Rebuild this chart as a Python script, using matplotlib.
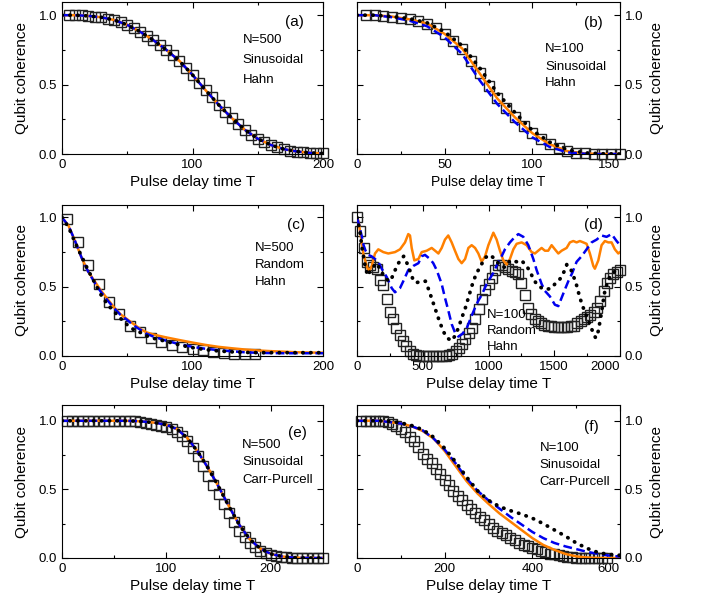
import numpy as np
import matplotlib
matplotlib.use("Agg")
import matplotlib.pyplot as plt
from matplotlib.ticker import MultipleLocator

plt.rcParams['font.family'] = ['Liberation Sans', 'DejaVu Sans']

# ---------------- (a) N=500 sinusoidal Hahn ----------------
a_x = [0, 10, 20, 30, 40, 50, 60, 70, 80, 90, 100, 110, 120, 130, 140, 150, 160, 170, 180, 190, 200]
a_curve = [1.0, 1.0, 0.995, 0.985, 0.965, 0.93, 0.88, 0.82, 0.75, 0.67, 0.57, 0.46, 0.355, 0.26, 0.175,
           0.11, 0.065, 0.035, 0.018, 0.008, 0.004]
a_sq_x = np.arange(5, 201, 5)
a_sq = [1.0, 1.0, 0.998, 0.995, 0.99, 0.985, 0.975, 0.965, 0.95, 0.93, 0.905, 0.88, 0.85, 0.82, 0.785,
        0.75, 0.71, 0.67, 0.62, 0.57, 0.515, 0.46, 0.41, 0.355, 0.305, 0.26, 0.215, 0.175, 0.14, 0.11,
        0.085, 0.065, 0.048, 0.035, 0.025, 0.018, 0.012, 0.008, 0.005, 0.004]

# ---------------- (b) N=100 sinusoidal Hahn ----------------
b_x = [0, 10, 20, 30, 40, 50, 60, 70, 80, 90, 100, 110, 120, 130, 140, 150]
b_orange = [1.0, 1.0, 0.99, 0.97, 0.94, 0.865, 0.76, 0.58, 0.40, 0.265, 0.15, 0.07, 0.02, 0.004, 0.0, 0.0]
b_blue = [1.0, 1.0, 0.985, 0.96, 0.92, 0.84, 0.72, 0.53, 0.36, 0.23, 0.12, 0.05, 0.012, 0.002, 0.0, 0.0]
b_dots = [1.0, 1.0, 0.99, 0.975, 0.945, 0.88, 0.78, 0.62, 0.44, 0.30, 0.17, 0.085, 0.03, 0.008, 0.002, 0.0]
b_sq_x = np.arange(5, 151, 5)
b_sq = [1.0, 1.0, 0.995, 0.99, 0.98, 0.97, 0.955, 0.94, 0.905, 0.865, 0.815, 0.76, 0.67, 0.58, 0.49,
        0.40, 0.33, 0.265, 0.205, 0.15, 0.11, 0.07, 0.04, 0.02, 0.01, 0.004, 0.001, 0.0, 0.0, 0.0]

# ---------------- (c) N=500 random Hahn ----------------
c_x = [0, 5, 10, 15, 20, 25, 30, 35, 40, 45, 50, 55, 60, 65, 70, 80, 90, 100, 110, 120, 130, 140, 150,
       160, 170, 180, 190, 200]
c_orange = [1.0, 0.94, 0.83, 0.71, 0.61, 0.54, 0.47, 0.41, 0.35, 0.30, 0.265, 0.23, 0.195, 0.17, 0.155,
            0.134, 0.115, 0.097, 0.08, 0.066, 0.056, 0.047, 0.04, 0.035, 0.031, 0.027, 0.025, 0.024]
c_blue = [1.0, 0.94, 0.83, 0.71, 0.61, 0.53, 0.46, 0.40, 0.345, 0.295, 0.26, 0.22, 0.19, 0.16, 0.14,
          0.11, 0.085, 0.066, 0.052, 0.042, 0.034, 0.027, 0.023, 0.021, 0.02, 0.02, 0.02, 0.02]
c_dots = [1.0, 0.93, 0.82, 0.72, 0.62, 0.53, 0.44, 0.37, 0.32, 0.27, 0.225, 0.19, 0.17, 0.145, 0.128,
          0.105, 0.08, 0.06, 0.046, 0.036, 0.03, 0.026, 0.024, 0.024, 0.024, 0.024, 0.024, 0.024]
c_sq_x = np.arange(4, 149, 8)
c_sq = [0.99, 0.82, 0.66, 0.52, 0.39, 0.30, 0.22, 0.17, 0.13, 0.10, 0.08, 0.065, 0.05, 0.04, 0.03,
        0.022, 0.016, 0.012, 0.012]

# ---------------- (d) N=100 random Hahn ----------------
d_orange_x = [0, 10, 30, 48, 74, 91, 112, 137, 162, 200, 238, 289, 327, 365, 390, 403, 416, 436, 467,
              492, 530, 568, 594, 619, 644, 669, 694, 720, 745, 771, 796, 822, 847, 872, 898, 923, 948,
              974, 999, 1037, 1062, 1087, 1113, 1138, 1163, 1189, 1214, 1252, 1290, 1328, 1353, 1378,
              1404, 1429, 1454, 1480, 1505, 1531, 1556, 1594, 1619, 1645, 1670, 1695, 1721, 1746, 1771,
              1797, 1809, 1835, 1860, 1885, 1911, 1936, 1961, 1987, 2000]
d_orange = [0.99, 0.98, 0.86, 0.74, 0.65, 0.61, 0.65, 0.74, 0.77, 0.75, 0.74, 0.75, 0.77, 0.82, 0.88,
            0.87, 0.78, 0.69, 0.70, 0.75, 0.76, 0.78, 0.76, 0.74, 0.78, 0.84, 0.87, 0.82, 0.76, 0.70,
            0.67, 0.70, 0.78, 0.80, 0.78, 0.74, 0.68, 0.72, 0.80, 0.89, 0.84, 0.76, 0.69, 0.66, 0.70,
            0.77, 0.81, 0.82, 0.80, 0.75, 0.74, 0.76, 0.78, 0.76, 0.76, 0.80, 0.77, 0.74, 0.76, 0.78,
            0.82, 0.83, 0.82, 0.83, 0.82, 0.81, 0.74, 0.65, 0.63, 0.69, 0.80, 0.83, 0.82, 0.82, 0.77,
            0.74, 0.75]
d_blue_x = [0, 15, 35, 50, 65, 85, 110, 137, 162, 188, 226, 264, 289, 327, 352, 390, 428, 467, 492, 517,
            555, 580, 606, 644, 669, 694, 720, 745, 771, 801, 834, 872, 898, 923, 948, 986, 1011, 1037,
            1075, 1100, 1125, 1163, 1201, 1227, 1265, 1303, 1341, 1366, 1404, 1429, 1467, 1505, 1531,
            1556, 1581, 1607, 1637, 1670, 1708, 1746, 1784, 1822, 1860, 1898, 1936, 1974, 2000]
d_blue = [1.0, 0.95, 0.87, 0.80, 0.76, 0.73, 0.72, 0.70, 0.68, 0.63, 0.57, 0.49, 0.46, 0.49, 0.54, 0.62,
          0.65, 0.67, 0.72, 0.73, 0.70, 0.67, 0.62, 0.52, 0.42, 0.33, 0.23, 0.17, 0.14, 0.16, 0.20, 0.29,
          0.35, 0.40, 0.44, 0.52, 0.56, 0.60, 0.68, 0.72, 0.77, 0.82, 0.86, 0.88, 0.86, 0.80, 0.70, 0.62,
          0.52, 0.47, 0.43, 0.37, 0.36, 0.42, 0.48, 0.54, 0.60, 0.68, 0.72, 0.77, 0.82, 0.84, 0.87, 0.86,
          0.88, 0.83, 0.80]
d_dots_x = [0, 20, 40, 60, 80, 110, 150, 190, 230, 255, 280, 315, 355, 380, 405, 430, 455, 490, 520, 545,
            570, 595, 620, 655, 685, 720, 745, 770, 795, 825, 850, 875, 905, 940, 975, 1010, 1050, 1090,
            1125, 1165, 1215, 1250, 1290, 1315, 1340, 1365, 1405, 1440, 1480, 1505, 1530, 1555, 1580,
            1595, 1620, 1645, 1670, 1695, 1720, 1745, 1770, 1795, 1815, 1835, 1848, 1860, 1873, 1885,
            1910, 1935, 1960, 2000]
d_dots = [1.0, 0.91, 0.77, 0.66, 0.58, 0.63, 0.67, 0.60, 0.55, 0.54, 0.60, 0.67, 0.72, 0.67, 0.61, 0.54,
          0.53, 0.54, 0.54, 0.48, 0.41, 0.34, 0.27, 0.18, 0.13, 0.11, 0.145, 0.20, 0.27, 0.35, 0.43, 0.51,
          0.59, 0.65, 0.71, 0.73, 0.70, 0.65, 0.64, 0.69, 0.68, 0.69, 0.65, 0.61, 0.56, 0.52, 0.49, 0.48,
          0.49, 0.52, 0.54, 0.57, 0.62, 0.66, 0.64, 0.58, 0.51, 0.42, 0.35, 0.29, 0.23, 0.17, 0.13, 0.18,
          0.25, 0.32, 0.40, 0.47, 0.55, 0.59, 0.61, 0.64]
d_sq_x = np.arange(0, 2001, 25)
d_sq = [1.00, 0.90, 0.78, 0.68, 0.655, 0.64, 0.625, 0.55, 0.51, 0.41, 0.32, 0.265, 0.205, 0.152, 0.11,
        0.07, 0.038, 0.018, 0.007, 0.002, 0.0, 0.0, 0.0, 0.0, 0.0, 0.0, 0.0, 0.003, 0.008, 0.018, 0.035,
        0.056, 0.085, 0.12, 0.165, 0.205, 0.265, 0.34, 0.41, 0.48, 0.52, 0.56, 0.62, 0.66, 0.655, 0.64,
        0.63, 0.615, 0.605, 0.595, 0.525, 0.44, 0.35, 0.30, 0.27, 0.25, 0.235, 0.225, 0.22, 0.215, 0.21,
        0.21, 0.21, 0.21, 0.21, 0.215, 0.22, 0.235, 0.25, 0.265, 0.28, 0.295, 0.32, 0.35, 0.40, 0.47,
        0.53, 0.565, 0.59, 0.605, 0.62]

# ---------------- (e) N=500 sinusoidal Carr-Purcell ----------------
e_x = [0, 20, 40, 60, 70, 80, 90, 100, 110, 120, 130, 140, 150, 160, 170, 180, 190, 200, 210, 220, 230,
       240, 250]
e_curve = [1.0, 1.0, 1.0, 1.0, 0.998, 0.993, 0.985, 0.97, 0.94, 0.875, 0.775, 0.655, 0.52, 0.375, 0.24,
           0.135, 0.068, 0.03, 0.012, 0.004, 0.001, 0.0, 0.0]
e_sq_x = np.arange(5, 251, 5)
e_sq = [1.0, 1.0, 1.0, 1.0, 1.0, 1.0, 1.0, 1.0, 1.0, 1.0, 1.0, 0.998, 0.997, 0.995, 0.99, 0.985, 0.978,
        0.97, 0.963, 0.955, 0.94, 0.92, 0.89, 0.85, 0.80, 0.74, 0.67, 0.60, 0.535, 0.465, 0.395, 0.325,
        0.26, 0.20, 0.15, 0.11, 0.078, 0.053, 0.035, 0.022, 0.013, 0.008, 0.004, 0.002, 0.0, 0.0, 0.0,
        0.0, 0.0, 0.0]

# ---------------- (f) N=100 sinusoidal Carr-Purcell ----------------
f_x = np.arange(0, 601, 25)
f_orange = [1.0, 1.0, 1.0, 0.99, 0.98, 0.96, 0.925, 0.87, 0.78, 0.67, 0.56, 0.47, 0.395, 0.325, 0.265,
            0.205, 0.145, 0.095, 0.06, 0.03, 0.012, 0.004, 0.0, 0.0, 0.0]
f_blue = [1.0, 1.0, 1.0, 0.99, 0.98, 0.96, 0.93, 0.87, 0.79, 0.69, 0.58, 0.49, 0.42, 0.36, 0.30, 0.245,
          0.19, 0.145, 0.11, 0.085, 0.065, 0.045, 0.03, 0.018, 0.01]
f_dots = [1.0, 1.0, 1.0, 0.995, 0.985, 0.965, 0.935, 0.88, 0.80, 0.70, 0.59, 0.49, 0.42, 0.375, 0.345,
          0.32, 0.29, 0.25, 0.205, 0.16, 0.11, 0.07, 0.04, 0.025, 0.02]
f_sq_x = np.arange(10, 571, 10)
f_sq = [1.0, 1.0, 1.0, 1.0, 0.998, 0.995, 0.99, 0.975, 0.96, 0.94,
        0.92, 0.88, 0.85, 0.81, 0.76, 0.72, 0.69, 0.65, 0.61, 0.57,
        0.53, 0.49, 0.455, 0.42, 0.385, 0.355, 0.33, 0.30, 0.275, 0.25,
        0.22, 0.20, 0.18, 0.165, 0.145, 0.13, 0.11, 0.095, 0.085, 0.073,
        0.062, 0.05, 0.041, 0.032, 0.027, 0.021, 0.016, 0.01, 0.006, 0.003,
        0.002, 0.0, 0.0, 0.0, 0.0, 0.0, 0.0]

ORANGE = '#ff8000'
BLUE = '#0000ee'


def draw(ax, sx, sy, ox, oy, bx, by, dx, dy):
    ax.plot(sx, sy, 's', mfc='none', mec='#222222', mew=1.0, ms=6.5, clip_on=False, zorder=2)
    ax.plot(ox, oy, color=ORANGE, lw=1.8, zorder=3)
    ax.plot(bx, by, color=BLUE, lw=1.8, linestyle=(0, (3.5, 1.8)), zorder=4)
    ax.plot(dx, dy, color='black', lw=2.7, linestyle=(0, (0.1, 2.0)),
            dash_capstyle='round', zorder=5)


def style(ax, xmax, xmaj, ytop, right=False, xlabsize=11, ticks=None):
    ax.xaxis.set_major_locator(MultipleLocator(xmaj))
    ax.xaxis.set_minor_locator(MultipleLocator(xmaj / 2))
    if ticks is not None:
        # right-hand panels: last x label pulled left of the axis end, clear of "0.0"
        ax.set_xticks(ticks, [str(t) for t in ticks])
        ax.get_xticklabels()[-1].set_horizontalalignment('right')
    ax.set_xlim(0, xmax)
    ax.set_ylim(0, ytop)
    ax.yaxis.set_major_locator(MultipleLocator(0.5))
    ax.yaxis.set_minor_locator(MultipleLocator(0.25))
    ax.tick_params(which='both', direction='in', top=True, right=True, left=True, bottom=True,
                   labelsize=9.5, width=0.8)
    ax.tick_params(which='major', length=4)
    ax.tick_params(which='minor', length=2.5)
    ax.set_xlabel('Pulse delay time T', fontsize=xlabsize, labelpad=3)
    if right:
        ax.tick_params(axis='y', which='both', labelleft=False, labelright=True)
        ax.yaxis.set_label_position('right')
        ax.set_ylabel('Qubit coherence', fontsize=11, labelpad=5)
    else:
        ax.set_ylabel('Qubit coherence', fontsize=11, labelpad=7)
    ax.yaxis.set_major_formatter(matplotlib.ticker.FormatStrFormatter('%.1f'))
    for s in ax.spines.values():
        s.set_linewidth(0.8)


def notes(ax, tag, tagpos, lines, x0, ys):
    ax.text(tagpos[0], tagpos[1], tag, transform=ax.transAxes, fontsize=11, va='center', ha='left')
    for t, y in zip(lines, ys):
        ax.text(x0, y, t, transform=ax.transAxes, fontsize=9.5, va='center', ha='left')


fig = plt.figure(figsize=(7.04, 6.04), dpi=100)
L, R = 62 / 704, 357 / 704
WL, WR = 261 / 704, 263 / 704

ax_a = fig.add_axes([L, 1 - 154 / 604, WL, 152 / 604])
ax_b = fig.add_axes([R, 1 - 154 / 604, WR, 152 / 604])
ax_c = fig.add_axes([L, 1 - 356 / 604, WL, 151 / 604])
ax_d = fig.add_axes([R, 1 - 356 / 604, WR, 151 / 604])
ax_e = fig.add_axes([L, 1 - 558 / 604, WL, 153 / 604])
ax_f = fig.add_axes([R, 1 - 558 / 604, WR, 153 / 604])

draw(ax_a, a_sq_x, a_sq, a_x, a_curve, a_x, a_curve, a_x, a_curve)
style(ax_a, 200, 100, 1.095)
notes(ax_a, '(a)', (0.854, 0.87), ['N=500', 'Sinusoidal', 'Hahn'], 0.692, [0.75, 0.618, 0.49])

draw(ax_b, b_sq_x, b_sq, b_x, b_orange, b_x, b_blue, b_x, b_dots)
style(ax_b, 150, 50, 1.095, right=True, xlabsize=10, ticks=[0, 50, 100, 150])
notes(ax_b, '(b)', (0.862, 0.862), ['N=100', 'Sinusoidal', 'Hahn'], 0.716, [0.69, 0.574, 0.467])

draw(ax_c, c_sq_x, c_sq, c_x, c_orange, c_x, c_blue, c_x, c_dots)
style(ax_c, 200, 100, 1.09)
notes(ax_c, '(c)', (0.862, 0.868), ['N=500', 'Random', 'Hahn'], 0.739, [0.713, 0.603, 0.492])

draw(ax_d, d_sq_x, d_sq, d_orange_x, d_orange, d_blue_x, d_blue, d_dots_x, d_dots)
style(ax_d, 2000, 500, 1.09, right=True, ticks=[0, 500, 1000, 1500, 2000])
notes(ax_d, '(d)', (0.862, 0.868), ['N=100', 'Random', 'Hahn'], 0.494, [0.272, 0.166, 0.06])

draw(ax_e, e_sq_x, e_sq, e_x, e_curve, e_x, e_curve, e_x, e_curve)
style(ax_e, 250, 100, 1.115)
notes(ax_e, '(e)', (0.866, 0.82), ['N=500', 'Sinusoidal', 'Carr-Purcell'], 0.69, [0.739, 0.63, 0.51])

draw(ax_f, f_sq_x, f_sq, f_x, f_orange, f_x, f_blue, f_x, f_dots)
style(ax_f, 600, 200, 1.115, right=True, ticks=[0, 200, 400, 600])
notes(ax_f, '(f)', (0.862, 0.858), ['N=100', 'Sinusoidal', 'Carr-Purcell'], 0.695, [0.717, 0.608, 0.499])

fig.savefig('out.png', dpi=100)
